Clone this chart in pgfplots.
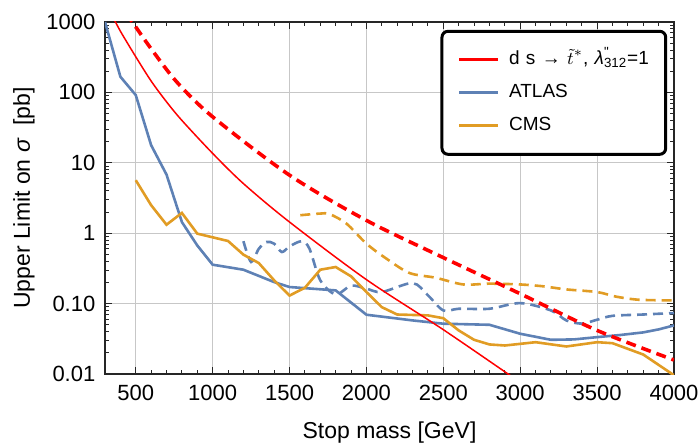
\documentclass[border=0pt]{standalone}
\usepackage{fontspec}
\setmainfont{Liberation Sans}
\usepackage{pgfplots}
\pgfplotsset{compat=1.18}
\definecolor{mblue}{rgb}{0.368417,0.506779,0.709798}
\definecolor{morange}{rgb}{0.880722,0.611041,0.142051}
\begin{document}
\begin{tikzpicture}
\path[use as bounding box] (-52.5pt,-34.5pt) rectangle (297.5pt,187pt);
\begin{axis}[
  scale only axis, width=284.5pt, height=176pt,
  ymode=log, xmin=300, xmax=4000, ymin=0.01, ymax=1000,
  xtick={500,1000,1500,2000,2500,3000,3500,4000},
  xticklabels={500,1000,1500,2000,2500,3000,3500,4000},
  minor x tick num=4,
  ytick={0.01,0.1,1,10,100,1000},
  yticklabels={0.01,0.10,1,10,100,1000},
  grid=major, grid style={black!22, line width=0.5pt},
  axis line style={black!85, line width=0.6pt},
  major tick length=3.5pt, minor tick length=2pt,
  every tick/.style={black!85, line width=0.5pt},
  tick label style={font=\fontsize{11}{13}\selectfont},
  xticklabel style={yshift=-1.8pt},
  yticklabel style={xshift=-1.3pt},
  xlabel={Stop mass [GeV]},
  ylabel={Upper Limit on \textit{σ}\ \ [pb]},
  label style={font=\fontsize{11.5}{13}\selectfont},
  xlabel style={at={(axis description cs:0.5,-0.1676)}, anchor=center},
  ylabel style={at={(axis description cs:-0.1424,0.5)}, anchor=center},
  legend cell align=left,
  legend image code/.code={\draw[#1, line cap=butt] (0pt,0pt) -- (19.2pt,0pt);},
  legend style={at={(axis description cs:1,1)}, anchor=north east,
    xshift=-3.4pt, yshift=-3.9pt, draw=black, line width=1.5pt,
    rounded corners=3pt, fill=white,
    font=\fontsize{9.5}{11}\selectfont,
    inner xsep=7.85pt, inner ysep=9.6pt, row sep=6.9pt, column sep=5pt,
    nodes={inner sep=0pt, text height=7pt, text depth=2.5pt, text width=70.45pt, align=left, rounded corners=0pt}},
]
% ATLAS solid
\addplot[mblue, line width=1.3pt, forget plot] coordinates {
(300,1000) (400,167) (500,91.6) (600,17.8) (700,6.8) (800,1.44) (900,0.67)
(1000,0.357) (1200,0.303) (1400,0.202) (1500,0.172) (1800,0.154) (2000,0.0695)
(2300,0.0577) (2500,0.0518) (2800,0.050) (3000,0.0373) (3200,0.0306)
(3350,0.0310) (3500,0.0334) (3650,0.0358) (3800,0.039) (3900,0.043) (4000,0.049)};
% ATLAS dashed
\addplot[mblue, line width=1.3pt, dash pattern=on 5pt off 3pt, smooth, tension=0.5, forget plot] coordinates {
(1200,0.77) (1250,0.39) (1300,0.60) (1350,0.75) (1400,0.71) (1450,0.54) (1500,0.65)
(1580,0.77) (1630,0.60) (1700,0.214) (1800,0.135) (1900,0.18) (2000,0.163)
(2100,0.146) (2300,0.196) (2400,0.131) (2500,0.080) (2600,0.0845) (2800,0.0845)
(3000,0.1016) (3200,0.080) (3300,0.0577) (3400,0.052) (3500,0.059) (3600,0.067)
(3800,0.070) (4000,0.0735)};
% CMS solid
\addplot[morange, line width=1.3pt, forget plot] coordinates {
(500,5.66) (600,2.5) (700,1.32) (800,1.94) (900,0.986) (1100,0.775) (1200,0.496)
(1300,0.377) (1400,0.214) (1500,0.13) (1600,0.168) (1700,0.303) (1800,0.331)
(1900,0.244) (2000,0.146) (2100,0.089) (2200,0.070) (2400,0.068) (2500,0.062)
(2600,0.0416) (2700,0.0306) (2800,0.0263) (2900,0.0254) (3100,0.0283)
(3300,0.0246) (3500,0.0283) (3600,0.0274) (3800,0.0189) (4000,0.0096)};
% CMS dashed
\addplot[morange, line width=1.3pt, dash pattern=on 5pt off 3pt, smooth, tension=0.5, forget plot] coordinates {
(1570,1.80) (1700,1.90) (1760,1.87) (1870,1.37) (2000,0.71) (2130,0.435)
(2280,0.272) (2450,0.233) (2630,0.187) (2800,0.192) (3000,0.187) (3150,0.176)
(3300,0.159) (3500,0.146) (3620,0.126) (3770,0.1135) (4000,0.111)};
% red solid
\addplot[red, line width=0.75pt, smooth, forget plot] coordinates {
(340,1320) (400,741) (500,321) (600,145) (700,73.5) (800,40) (1000,13.6)
(1200,5.07) (1500,1.44) (2000,0.219) (2500,0.0426) (3000,0.0076)};
% red dashed
\addplot[red, line width=1.8pt, dash pattern=on 5pt off 3pt, smooth, forget plot] coordinates {
(440,1320) (500,851) (600,417) (765,142) (1000,45) (1500,6.67)
(2000,1.52) (2500,0.45) (3000,0.138) (3500,0.0416) (4000,0.0158)};
\addlegendimage{red, line width=1.5pt}
\addlegendentry{d s → $\tilde{t}^{*}$, \textit{λ}\rlap{\textsuperscript{\textquotedbl}}\textsubscript{312}=1}
\addlegendimage{mblue, line width=1.5pt}
\addlegendentry{ATLAS}
\addlegendimage{morange, line width=1.5pt}
\addlegendentry{CMS}
\end{axis}
\end{tikzpicture}
\end{document}
